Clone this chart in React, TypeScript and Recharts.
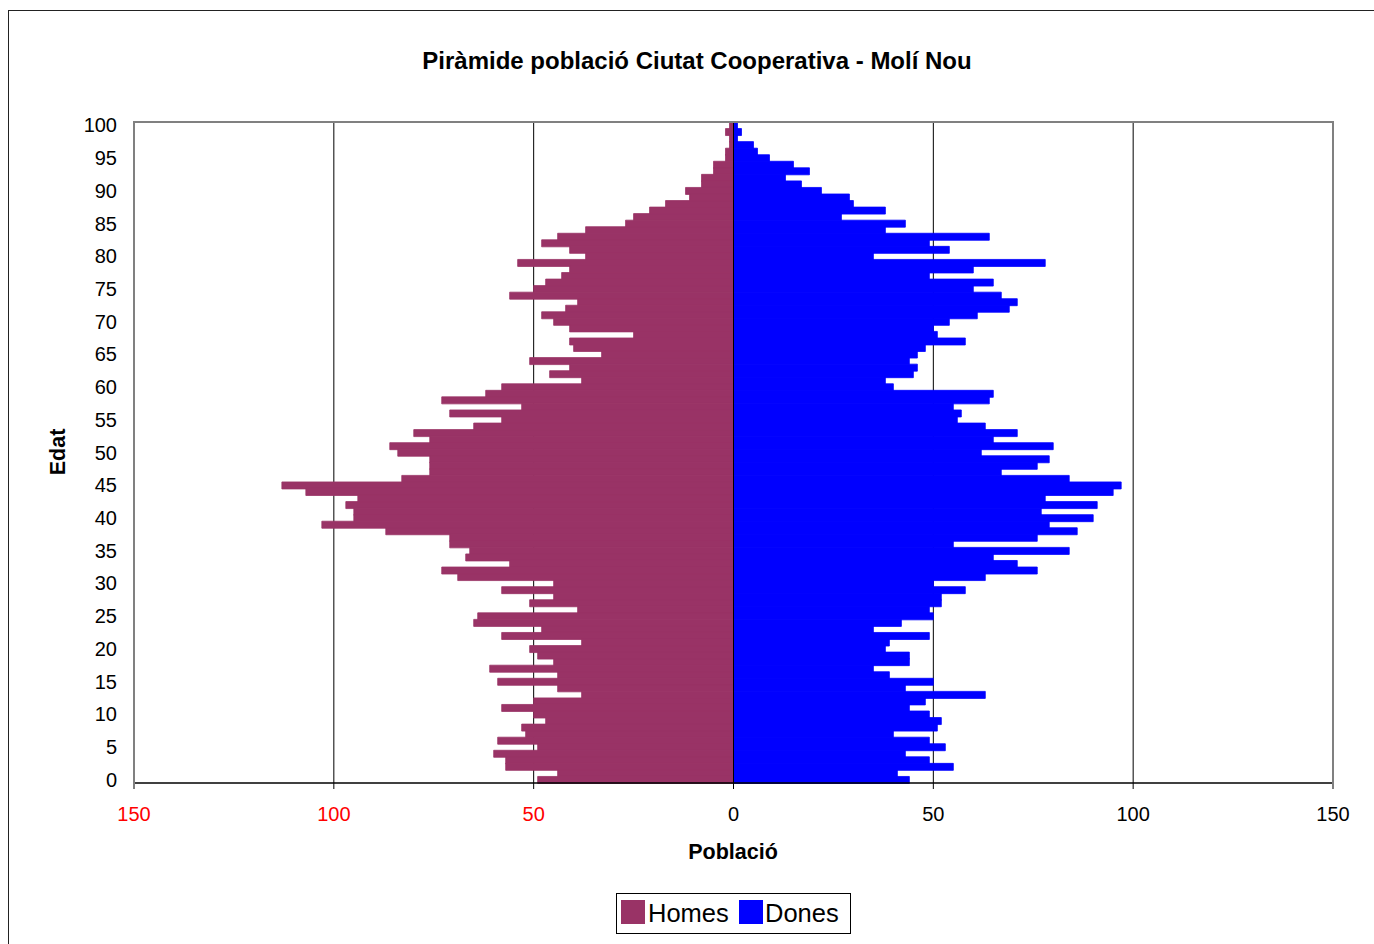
import React from 'react';
import { BarChart, Bar, XAxis, YAxis, CartesianGrid, ReferenceLine } from 'recharts';

// ages 0..100, values
const homes = [
  49, 44, 57, 57, 60, 49, 59, 52, 53, 47,
  50, 58, 50, 38, 44, 59, 44, 61, 45, 49,
  51, 38, 58, 48, 65, 64, 39, 51, 45, 58,
  45, 69, 73, 56, 67, 66, 71, 71, 87, 103,
  95, 95, 97, 94, 107, 113, 83, 76, 76, 76,
  84, 86, 76, 80, 65, 58, 71, 53, 73, 62,
  58, 38, 46, 41, 51, 33, 40, 41, 25, 41,
  45, 48, 42, 39, 56, 50, 47, 43, 41, 54,
  37, 41, 48, 44, 37, 27, 25, 21, 17, 11,
  12, 8, 8, 5, 5, 2, 2, 1, 1, 2,
  1,
];

const dones = [
  44, 41, 55, 49, 43, 53, 49, 40, 51, 52,
  49, 44, 48, 63, 43, 50, 39, 35, 44, 44,
  38, 39, 49, 35, 42, 50, 49, 52, 52, 58,
  50, 63, 76, 71, 65, 84, 55, 76, 86, 79,
  90, 77, 91, 78, 95, 97, 84, 67, 76, 79,
  62, 80, 65, 71, 63, 56, 57, 55, 64, 65,
  40, 38, 45, 46, 44, 46, 48, 58, 51, 50,
  54, 61, 69, 71, 67, 60, 65, 49, 60, 78,
  35, 54, 49, 64, 38, 43, 27, 38, 30, 29,
  22, 17, 13, 19, 15, 9, 6, 5, 1, 2,
  1,
];

const xTicks = [-150, -100, -50, 0, 50, 100, 150];

const HOMES_COLOR = '#993366';
const DONES_COLOR = '#0000FF';
const FONT = '"Liberation Sans", Arial, sans-serif';

// top row = age 100
const data = homes
  .map((h, age) => ({ age, homes: -h, dones: dones[age] }))
  .reverse();

const XTick = (props: any) => {
  const { x, y, payload } = props;
  const v = payload.value as number;
  return (
    <text x={x} y={y} dy={30} textAnchor="middle" fontSize={20} fontFamily={FONT} fill={v < 0 ? '#FF0000' : '#000'}>
      {Math.abs(v)}
    </text>
  );
};

const App: React.FC = () => {
  return (
    <div style={{ position: 'relative', width: 1374, height: 944, overflow: 'hidden', background: '#fff', fontFamily: FONT }}>
      <style>{`body{margin:0}`}</style>

      <div style={{ position: 'absolute', left: 8, top: 10, width: 1390, height: 1000, border: '1.5px solid #222', boxSizing: 'border-box' }} />

      <div style={{ position: 'absolute', left: 0, top: 47, width: 1394, lineHeight: '28px', textAlign: 'center', fontSize: 24, fontWeight: 700, color: '#000' }}>
        Piràmide població Ciutat Cooperativa - Molí Nou
      </div>

      <div style={{ position: 'absolute', left: 0, top: 0 }}>
        <BarChart
          width={1374}
          height={944}
          data={data}
          layout="vertical"
          stackOffset="sign"
          barCategoryGap={0}
          margin={{ top: 122, right: 41, bottom: 131, left: 74 }}
        >
          <CartesianGrid horizontal={false} stroke="#000" strokeWidth={1} />
          <XAxis
            type="number"
            domain={[-150, 150]}
            ticks={xTicks}
            height={30}
            tick={<XTick />}
            tickSize={6}
            tickLine={{ stroke: '#000' }}
            axisLine={{ stroke: '#000', strokeWidth: 1.5 }}
            allowDataOverflow
          />
          <YAxis
            type="category"
            dataKey="age"
            width={60}
            interval={4}
            tickLine={false}
            axisLine={false}
            tickSize={0}
            tickMargin={17}
            tick={{ fill: '#000', fontSize: 20, fontFamily: FONT }}
          />
          <Bar dataKey="homes" name="Homes" stackId="p" fill={HOMES_COLOR} stroke={HOMES_COLOR} strokeWidth={0.8} isAnimationActive={false} />
          <Bar dataKey="dones" name="Dones" stackId="p" fill={DONES_COLOR} stroke={DONES_COLOR} strokeWidth={0.8} isAnimationActive={false} />
          <ReferenceLine x={0} stroke="#000" strokeWidth={1} />
        </BarChart>
      </div>

      {/* plot frame */}
      <div style={{ position: 'absolute', left: 133, top: 121, width: 1201, height: 663, border: '2px solid #808080', borderBottom: 'none', boxSizing: 'border-box', pointerEvents: 'none' }} />

      <div style={{ position: 'absolute', left: 58, top: 452, transform: 'translate(-50%, -50%) rotate(-90deg)', fontSize: 21.5, fontWeight: 700, whiteSpace: 'nowrap' }}>
        Edat
      </div>

      <div style={{ position: 'absolute', left: 733, top: 852, transform: 'translate(-50%, -50%)', fontSize: 21.5, fontWeight: 700, whiteSpace: 'nowrap' }}>
        Població
      </div>

      <div style={{ position: 'absolute', left: 616, top: 893, width: 235, height: 41, border: '1px solid #000', boxSizing: 'border-box', fontSize: 25.5 }}>
        <div style={{ position: 'absolute', left: 4, top: 5.5, width: 24, height: 24, background: HOMES_COLOR }} />
        <div style={{ position: 'absolute', left: 31, top: 5, lineHeight: '28px' }}>Homes</div>
        <div style={{ position: 'absolute', left: 122, top: 5.5, width: 24, height: 24, background: DONES_COLOR }} />
        <div style={{ position: 'absolute', left: 148, top: 5, lineHeight: '28px' }}>Dones</div>
      </div>
    </div>
  );
};

export default App;
